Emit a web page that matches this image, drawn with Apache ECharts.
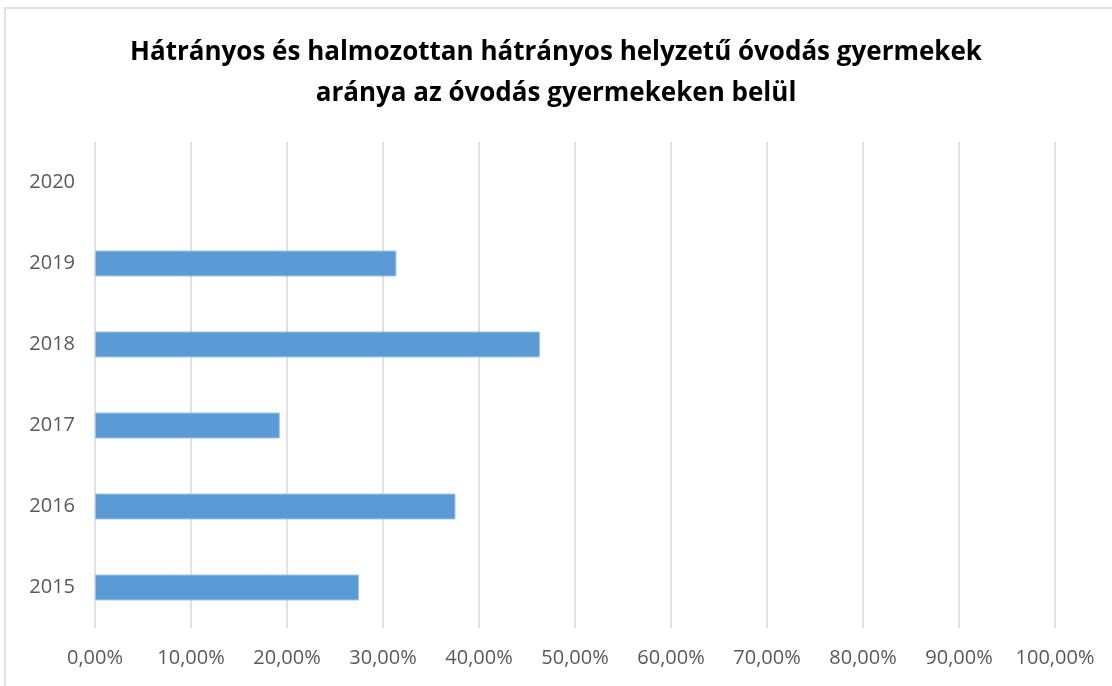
<!DOCTYPE html>
<html><head><meta charset="utf-8">
<script src="https://cdn.jsdelivr.net/npm/echarts@6/dist/echarts.min.js"></script>
<style>html,body{margin:0;padding:0;background:#fff}#c{width:1112px;height:686px}</style>
</head><body><div id="c"></div>
<script>
const categories = ['2015','2016','2017','2018','2019','2020'];
const values = [27.5, 37.55, 19.25, 46.35, 31.4, null];
const xTicks = [0,10,20,30,40,50,60,70,80,90,100];
const titleLines = ['Hátrányos és halmozottan hátrányos helyzetű óvodás gyermekek','aránya az óvodás gyermekeken belül'];

const chart = echarts.init(document.getElementById('c'));
chart.setOption({
  animation:false,
  backgroundColor:'#fff',
  graphic:[{type:'rect',shape:{x:5,y:8,width:1200,height:800},style:{fill:'none',stroke:'#d9d9d9',lineWidth:1.5},silent:true}],
  title:{text:titleLines.join('\n'),left:'center',top:27,
    textStyle:{fontFamily:'Open Sans',fontWeight:'bold',fontSize:26,color:'#000',lineHeight:41}},
  grid:{left:95,right:57,top:142,bottom:58},
  xAxis:{type:'value',min:0,max:100,interval:10,
    axisLine:{show:false},axisTick:{show:false},
    splitLine:{show:true,lineStyle:{color:'#d9d9d9',width:1.5}},
    axisLabel:{formatter:v=>v.toFixed(2).replace('.',',')+'%',color:'#595959',fontSize:20,fontFamily:'Open Sans',margin:20}},
  yAxis:{type:'category',data:categories,
    axisLine:{show:false},axisTick:{show:false},
    axisLabel:{color:'#595959',fontSize:20,fontFamily:'Open Sans',margin:20}},
  series:[{type:'bar',data:values,barWidth:'32%',itemStyle:{color:'#5b9bd5',borderColor:'#9dc3e6',borderWidth:1}}]
});
</script></body></html>
